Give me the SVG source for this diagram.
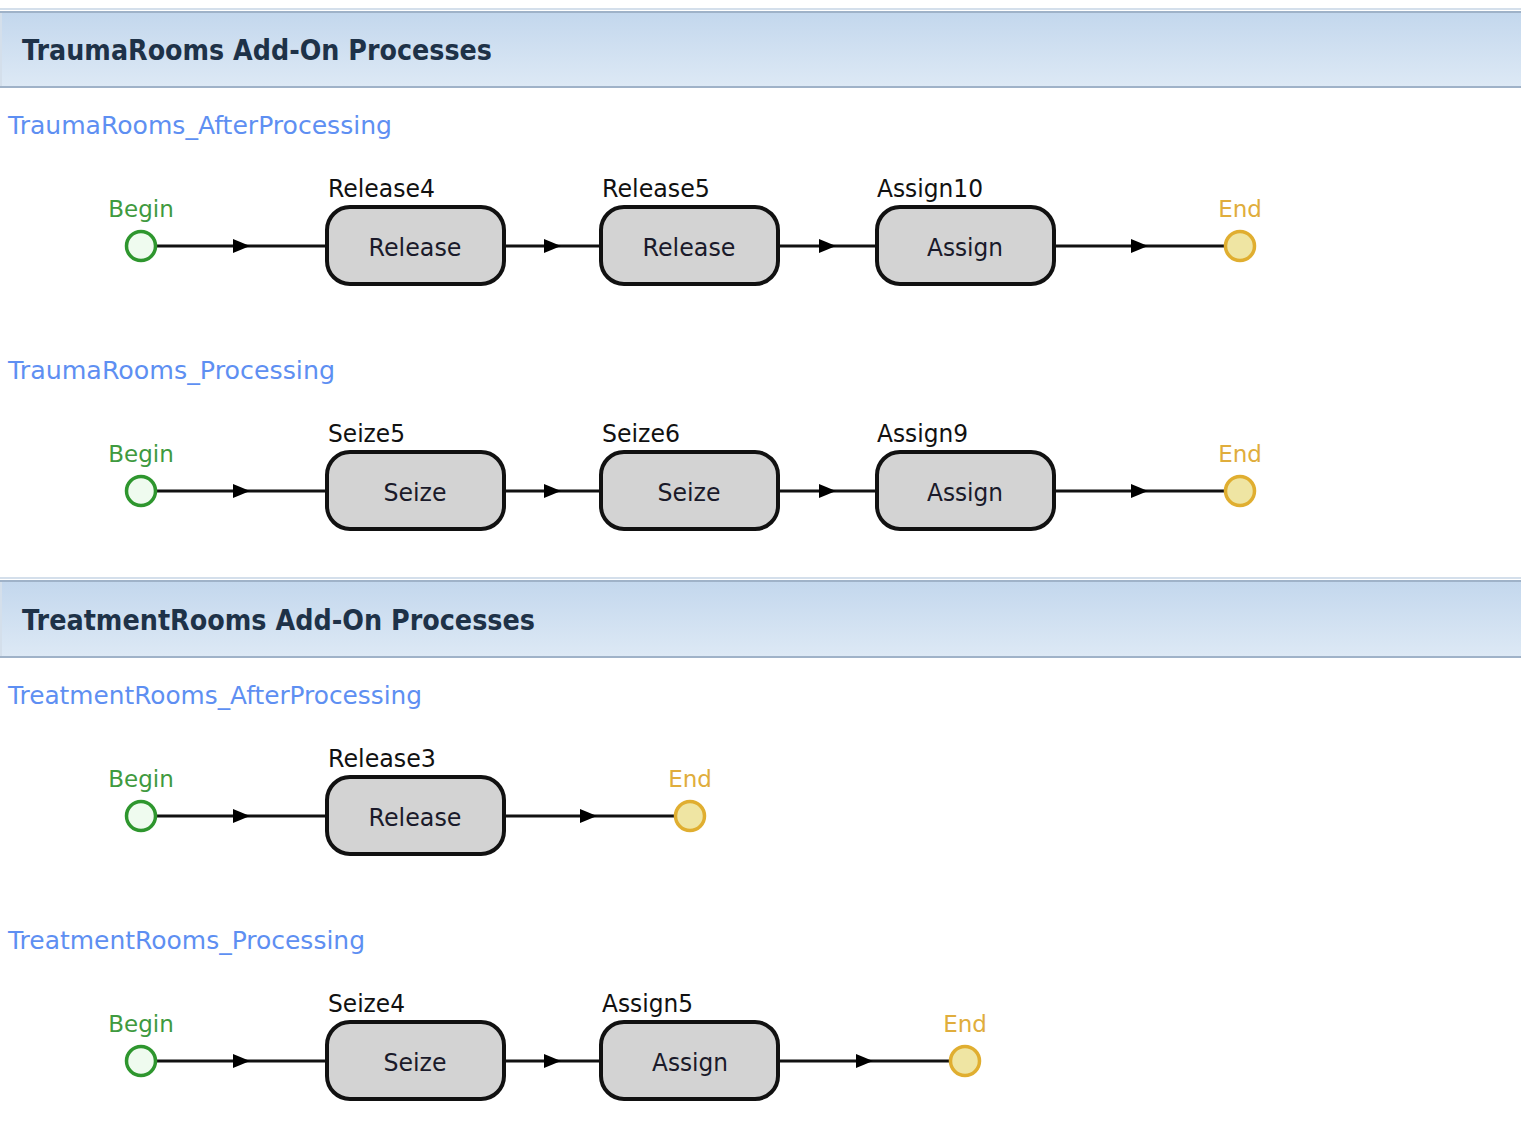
<svg xmlns="http://www.w3.org/2000/svg" width="1521" height="1138" viewBox="0 0 1521 1138">
<defs>
<linearGradient id="hdr" x1="0" y1="0" x2="0" y2="1">
<stop offset="0" stop-color="#c3d7ed"/>
<stop offset="1" stop-color="#dde9f5"/>
</linearGradient>
<marker id="arr" viewBox="0 0 17 14" markerWidth="17" markerHeight="14" refX="10" refY="7" orient="auto" markerUnits="userSpaceOnUse">
<path d="M0,0 L17,7 L0,14 z" fill="#000"/>
</marker>
</defs>
<style>
.hdrband{fill:url(#hdr);stroke:none}
.hdrline{stroke:#9fb2c8;stroke-width:2}
.hdrlight{stroke:#d4dfeb;stroke-width:2}
.hdrtext{font-family:"DejaVu Sans",Verdana,sans-serif;font-weight:bold;font-size:28px;fill:#1e3248}
.ptitle{font-family:"DejaVu Sans",Verdana,sans-serif;font-size:24px;fill:#5e8ff2}
.lbl{font-family:"DejaVu Sans",Verdana,sans-serif;font-size:24px;fill:#111}
.box{fill:#d3d3d3;stroke:#111;stroke-width:4}
.boxtext{font-family:"DejaVu Sans",Verdana,sans-serif;font-size:24px;fill:#1a1a2a;text-anchor:middle}
.begin{fill:#effbef;stroke:#2e962e;stroke-width:3.5}
.end{fill:#efe5a3;stroke:#e0ae30;stroke-width:3.5}
.btxt{font-family:"DejaVu Sans",Verdana,sans-serif;font-size:23px;fill:#3f9a3f;text-anchor:middle}
.etxt{font-family:"DejaVu Sans",Verdana,sans-serif;font-size:23px;fill:#e0ad3c;text-anchor:middle}
.conn{fill:none;stroke:#111;stroke-width:3.2;marker-mid:url(#arr)}
</style>
<rect width="1521" height="1138" fill="#ffffff"/>

<g id="header1">
<line class="hdrlight" x1="0" y1="9" x2="1521" y2="9"/>
<rect class="hdrband" x="0" y="12" width="1521" height="75"/>
<line class="hdrline" x1="0" y1="12" x2="1521" y2="12"/>
<line class="hdrline" x1="0" y1="87" x2="1521" y2="87"/>
<line class="hdrlight" x1="1" y1="13" x2="1" y2="86"/>
<text class="hdrtext" x="22" y="60" textLength="470" lengthAdjust="spacingAndGlyphs">TraumaRooms Add-On Processes</text>
</g>

<g id="header2">
<line class="hdrlight" x1="0" y1="578" x2="1521" y2="578"/>
<rect class="hdrband" x="0" y="581" width="1521" height="76"/>
<line class="hdrline" x1="0" y1="581" x2="1521" y2="581"/>
<line class="hdrline" x1="0" y1="657" x2="1521" y2="657"/>
<line class="hdrlight" x1="1" y1="582" x2="1" y2="656"/>
<text class="hdrtext" x="22" y="630" textLength="513" lengthAdjust="spacingAndGlyphs">TreatmentRooms Add-On Processes</text>
</g>

<g id="titles">
<text class="ptitle" x="8" y="134" textLength="384" lengthAdjust="spacingAndGlyphs">TraumaRooms_AfterProcessing</text>
<text class="ptitle" x="8" y="379" textLength="327" lengthAdjust="spacingAndGlyphs">TraumaRooms_Processing</text>
<text class="ptitle" x="8" y="704" textLength="414" lengthAdjust="spacingAndGlyphs">TreatmentRooms_AfterProcessing</text>
<text class="ptitle" x="8" y="949" textLength="357" lengthAdjust="spacingAndGlyphs">TreatmentRooms_Processing</text>
</g>

<g id="connectors">
<path class="conn" d="M155,246 L243,246 L327,246"/>
<path class="conn" d="M504,246 L554,246 L601,246"/>
<path class="conn" d="M778,246 L829,246 L877,246"/>
<path class="conn" d="M1054,246 L1141,246 L1226,246"/>

<path class="conn" d="M155,491 L243,491 L327,491"/>
<path class="conn" d="M504,491 L554,491 L601,491"/>
<path class="conn" d="M778,491 L829,491 L877,491"/>
<path class="conn" d="M1054,491 L1141,491 L1226,491"/>

<path class="conn" d="M155,816 L243,816 L327,816"/>
<path class="conn" d="M504,816 L590,816 L676,816"/>

<path class="conn" d="M155,1061 L243,1061 L327,1061"/>
<path class="conn" d="M504,1061 L554,1061 L601,1061"/>
<path class="conn" d="M778,1061 L866,1061 L951,1061"/>
</g>

<!-- Row 1 -->
<g id="r1_begin">
<text class="btxt" x="141" y="217">Begin</text>
<circle class="begin" cx="141" cy="246" r="14.5"/>
</g>
<g id="r1_release4">
<text class="lbl" x="328" y="197" textLength="107" lengthAdjust="spacingAndGlyphs">Release4</text>
<rect class="box" x="327" y="207" width="177" height="77" rx="23"/>
<text class="boxtext" x="415" y="256" textLength="93" lengthAdjust="spacingAndGlyphs">Release</text>
</g>
<g id="r1_release5">
<text class="lbl" x="602" y="197" textLength="108" lengthAdjust="spacingAndGlyphs">Release5</text>
<rect class="box" x="601" y="207" width="177" height="77" rx="23"/>
<text class="boxtext" x="689" y="256" textLength="93" lengthAdjust="spacingAndGlyphs">Release</text>
</g>
<g id="r1_assign10">
<text class="lbl" x="877" y="197" textLength="106" lengthAdjust="spacingAndGlyphs">Assign10</text>
<rect class="box" x="877" y="207" width="177" height="77" rx="23"/>
<text class="boxtext" x="965" y="256" textLength="76" lengthAdjust="spacingAndGlyphs">Assign</text>
</g>
<g id="r1_end">
<text class="etxt" x="1240" y="217">End</text>
<circle class="end" cx="1240" cy="246" r="14.5"/>
</g>

<!-- Row 2 -->
<g id="r2_begin">
<text class="btxt" x="141" y="462">Begin</text>
<circle class="begin" cx="141" cy="491" r="14.5"/>
</g>
<g id="r2_seize5">
<text class="lbl" x="328" y="442" textLength="77" lengthAdjust="spacingAndGlyphs">Seize5</text>
<rect class="box" x="327" y="452" width="177" height="77" rx="23"/>
<text class="boxtext" x="415" y="501" textLength="63" lengthAdjust="spacingAndGlyphs">Seize</text>
</g>
<g id="r2_seize6">
<text class="lbl" x="602" y="442" textLength="78" lengthAdjust="spacingAndGlyphs">Seize6</text>
<rect class="box" x="601" y="452" width="177" height="77" rx="23"/>
<text class="boxtext" x="689" y="501" textLength="63" lengthAdjust="spacingAndGlyphs">Seize</text>
</g>
<g id="r2_assign9">
<text class="lbl" x="877" y="442" textLength="91" lengthAdjust="spacingAndGlyphs">Assign9</text>
<rect class="box" x="877" y="452" width="177" height="77" rx="23"/>
<text class="boxtext" x="965" y="501" textLength="76" lengthAdjust="spacingAndGlyphs">Assign</text>
</g>
<g id="r2_end">
<text class="etxt" x="1240" y="462">End</text>
<circle class="end" cx="1240" cy="491" r="14.5"/>
</g>

<!-- Row 3 -->
<g id="r3_begin">
<text class="btxt" x="141" y="787">Begin</text>
<circle class="begin" cx="141" cy="816" r="14.5"/>
</g>
<g id="r3_release3">
<text class="lbl" x="328" y="767" textLength="108" lengthAdjust="spacingAndGlyphs">Release3</text>
<rect class="box" x="327" y="777" width="177" height="77" rx="23"/>
<text class="boxtext" x="415" y="826" textLength="93" lengthAdjust="spacingAndGlyphs">Release</text>
</g>
<g id="r3_end">
<text class="etxt" x="690" y="787">End</text>
<circle class="end" cx="690" cy="816" r="14.5"/>
</g>

<!-- Row 4 -->
<g id="r4_begin">
<text class="btxt" x="141" y="1032">Begin</text>
<circle class="begin" cx="141" cy="1061" r="14.5"/>
</g>
<g id="r4_seize4">
<text class="lbl" x="328" y="1012" textLength="77" lengthAdjust="spacingAndGlyphs">Seize4</text>
<rect class="box" x="327" y="1022" width="177" height="77" rx="23"/>
<text class="boxtext" x="415" y="1071" textLength="63" lengthAdjust="spacingAndGlyphs">Seize</text>
</g>
<g id="r4_assign5">
<text class="lbl" x="602" y="1012" textLength="91" lengthAdjust="spacingAndGlyphs">Assign5</text>
<rect class="box" x="601" y="1022" width="177" height="77" rx="23"/>
<text class="boxtext" x="690" y="1071" textLength="76" lengthAdjust="spacingAndGlyphs">Assign</text>
</g>
<g id="r4_end">
<text class="etxt" x="965" y="1032">End</text>
<circle class="end" cx="965" cy="1061" r="14.5"/>
</g>
</svg>
